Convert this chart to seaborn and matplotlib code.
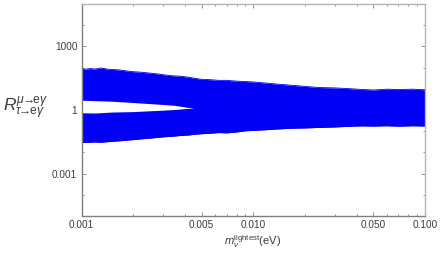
import pandas as pd
import matplotlib
matplotlib.use("Agg")
import matplotlib.pyplot as plt
from matplotlib.ticker import FixedLocator, FixedFormatter, NullFormatter
import seaborn as sns

# Envelope of the blue scatter region (slightly rough edge)
mass_ev = [0.001, 0.00105, 0.00112, 0.0012, 0.0013, 0.00142, 0.0015, 0.00165, 0.0018, 0.002, 0.0022,
           0.0025, 0.0028, 0.003, 0.0034, 0.0038, 0.0042, 0.0046, 0.005, 0.0056, 0.0063, 0.007,
           0.008, 0.009, 0.01, 0.012, 0.014, 0.017, 0.02, 0.024, 0.03, 0.036, 0.043, 0.05, 0.06, 0.07, 0.085, 0.1]
upper = [92, 84, 90, 86, 96, 84, 82, 78, 71, 64, 61, 55, 50, 46, 41, 39, 35, 31, 28, 27, 25, 25,
         23, 22, 21, 18.5, 16.5, 14.5, 13, 11.5, 11, 10.2, 9.3, 8.8, 9.6, 9.2, 9.6, 9.0]
lower = [0.029, 0.030, 0.030, 0.031, 0.030, 0.032, 0.033, 0.035, 0.037, 0.040, 0.043, 0.047, 0.051, 0.054,
         0.058, 0.063, 0.066, 0.072, 0.076, 0.080, 0.086, 0.083, 0.092, 0.104, 0.109, 0.118, 0.128, 0.138,
         0.142, 0.150, 0.158, 0.170, 0.178, 0.174, 0.180, 0.172, 0.180, 0.175]
# Inner white gap, which closes near 0.0045 eV
gap_mass = [0.001, 0.0012, 0.0015, 0.002, 0.0025, 0.0029, 0.0035, 0.0041, 0.0045]
gap_upper = [2.9, 2.75, 2.6, 2.25, 2.0, 1.85, 1.65, 1.35, 1.24]
gap_lower = [0.74, 0.72, 0.80, 0.84, 0.92, 0.97, 1.06, 1.18, 1.24]

x_major = [0.001, 0.005, 0.01, 0.05, 0.1]
x_major_labels = ["0.001", "0.005", "0.010", "0.050", "0.100"]
x_minor = [0.002, 0.003, 0.004, 0.006, 0.007, 0.008, 0.009, 0.02, 0.03, 0.04, 0.06, 0.07, 0.08, 0.09]
y_major = [0.001, 1, 1000]
y_major_labels = ["0.001", "1", "1000"]
y_minor = [1e-4, 1e-2, 1e-1, 1e1, 1e2, 1e4]

sns.set_style("white")
plt.rcParams["font.family"] = ["Liberation Sans", "DejaVu Sans"]
plt.rcParams["mathtext.fontset"] = "custom"
plt.rcParams["mathtext.rm"] = "Liberation Sans"
plt.rcParams["mathtext.it"] = "Liberation Sans:italic"
plt.rcParams["mathtext.bf"] = "Liberation Sans:bold"
plt.rcParams["mathtext.fallback"] = "stixsans"

BLUE = "#0000f5"
DARK = "#7f7f7f"
LIGHT = "#b5b5b5"
TXT = "#3c3c3c"

fig = plt.figure(figsize=(4.41, 2.54), dpi=100)
ax = fig.add_axes([81.5 / 441, 1 - 216 / 254, (425 - 81.5) / 441, (216 - 4) / 254])

df = pd.DataFrame({"m": mass_ev, "upper": upper, "lower": lower})
sns.lineplot(data=df, x="m", y="upper", color=BLUE, lw=0.6, ax=ax, legend=False)
sns.lineplot(data=df, x="m", y="lower", color=BLUE, lw=0.6, ax=ax, legend=False)
ax.fill_between(mass_ev, lower, upper, color=BLUE, lw=0)
ax.fill_between(gap_mass, gap_lower, gap_upper, color="white", lw=0)

ax.set_xscale("log")
ax.set_yscale("log")
ax.set_xlim(0.001, 0.1)
ax.set_ylim(1e-5, 1e5)

ax.xaxis.set_major_locator(FixedLocator(x_major))
ax.xaxis.set_major_formatter(FixedFormatter(x_major_labels))
ax.xaxis.set_minor_locator(FixedLocator(x_minor))
ax.xaxis.set_minor_formatter(NullFormatter())
ax.yaxis.set_major_locator(FixedLocator(y_major))
ax.yaxis.set_major_formatter(FixedFormatter(y_major_labels))
ax.yaxis.set_minor_locator(FixedLocator(y_minor))
ax.yaxis.set_minor_formatter(NullFormatter())

ax.tick_params(which="major", direction="in", length=3.2, width=0.6, color=DARK,
               labelsize=7.2, labelcolor=TXT, top=True, right=True, bottom=True, left=True, pad=3)
ax.tick_params(which="minor", direction="in", length=1.6, width=0.6, color=DARK,
               top=True, right=True, bottom=True, left=True)

for side, col in [("left", DARK), ("bottom", DARK), ("top", LIGHT), ("right", LIGHT)]:
    ax.spines[side].set_visible(True)
    ax.spines[side].set_color(col)
    ax.spines[side].set_linewidth(1.0)

ax.set_xlabel("")
ax.set_ylabel("")
arrow = r"\!\!\rightarrow\!\!"
fig.text(26 / 441, 1 - 108.5 / 254,
         r"$R_{\tau" + arrow + r"\mathrm{e}\gamma}^{\mu" + arrow + r"\mathrm{e}\gamma}$",
         fontsize=12.5, color=TXT, ha="center", va="center")
fig.text(252.5 / 441, 1 - 242 / 254, r"$m_{\nu}^{\mathrm{lightest}}$(eV)",
         fontsize=8, color=TXT, ha="center", va="center")

fig.savefig("out.png", dpi=100)
